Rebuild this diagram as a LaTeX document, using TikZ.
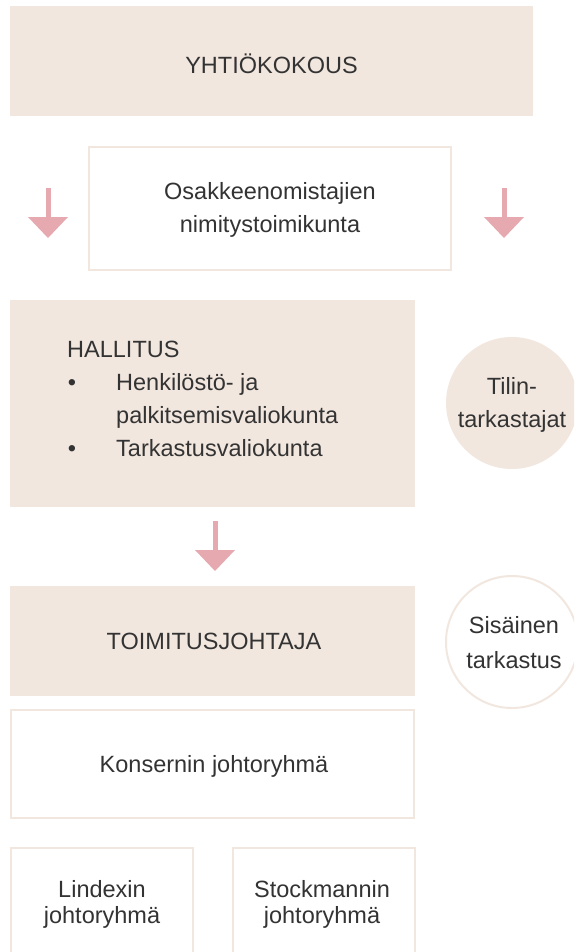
\documentclass[tikz,border=0pt]{standalone}
\usepackage{fontspec}
\setmainfont{Liberation Sans}
\usetikzlibrary{arrows.meta}
\definecolor{beige}{HTML}{F2E7DF}
\definecolor{pinkarr}{HTML}{E5A9AF}
\definecolor{txt}{HTML}{333333}
\begin{document}
\begin{tikzpicture}[x=1pt,y=-1pt,
  fbox/.style={fill=beige, draw=none, inner sep=0pt, outer sep=0pt, anchor=north west},
  obox/.style={draw=beige, line width=2pt, fill=white, inner sep=0pt, outer sep=0pt, anchor=north west},
  fcirc/.style={circle, fill=beige, draw=none, inner sep=0pt, minimum size=132pt},
  ocirc/.style={circle, draw=beige, line width=2pt, fill=white, inner sep=0pt, minimum size=132pt},
  lbl/.style={font=\fontsize{23.5}{32}\selectfont, text=txt, inner sep=0pt, anchor=base},
  lblw/.style={lbl, anchor=base west},
  arr/.style={draw=pinkarr, line width=5pt, -{Triangle[length=21pt,width=40pt,line width=0pt]}}]
\clip (0,0) rectangle (574,952);
\fill[white] (0,0) rectangle (574,952);
% boxes
\node[fbox, minimum width=523pt, minimum height=110pt] (yk) at (10,6) {};
\node[obox, minimum width=362pt, minimum height=123pt] (os) at (89,147) {};
\node[fbox, minimum width=405pt, minimum height=207pt] (ha) at (10,300) {};
\node[fbox, minimum width=405pt, minimum height=110pt] (tj) at (10,586) {};
\node[obox, minimum width=403pt, minimum height=108pt] (kj) at (11,710) {};
\node[obox, minimum width=182pt, minimum height=140pt] (lj) at (11,848) {};
\node[obox, minimum width=182pt, minimum height=140pt] (sj) at (233,848) {};
\node[fcirc] (tt) at (512,403) {};
\node[ocirc] (st) at (512,642) {};
% arrows
\coordinate (a1s) at (48,188); \coordinate (a1e) at (48,238);
\coordinate (a2s) at (504,188); \coordinate (a2e) at (504,238);
\coordinate (a3s) at (215,521); \coordinate (a3e) at (215,571);
\draw[arr] (a1s) -- (a1e);
\draw[arr] (a2s) -- (a2e);
\draw[arr] (a3s) -- (a3e);
% texts
\node[lbl] (t1) at (271.5,74) {YHTIÖKOKOUS};
\node[lbl] (t2) at (270,199) {Osakkeenomistajien};
\node[lbl] (t3) at (270,232) {nimitystoimikunta};
\node[lblw] (t4) at (67,357) {HALLITUS};
\node[lbl] (b1) at (72,390) {•};
\node[lblw] (t5) at (116,390) {Henkilöstö- ja};
\node[lblw] (t6) at (116,423) {palkitsemisvaliokunta};
\node[lbl] (b2) at (72,456) {•};
\node[lblw] (t7) at (116,456) {Tarkastusvaliokunta};
\node[lbl] (t8) at (512,394) {Tilin-};
\node[lbl] (t9) at (512,427) {tarkastajat};
\node[lbl] (t10) at (214,649) {TOIMITUSJOHTAJA};
\node[lbl] (t11) at (514,633) {Sisäinen};
\node[lbl] (t12) at (514,668) {tarkastus};
\node[lbl] (t13) at (214,772) {Konsernin johtoryhmä};
\node[lbl] (t14) at (102,897) {Lindexin};
\node[lbl] (t15) at (102,923) {johtoryhmä};
\node[lbl] (t16) at (322,897) {Stockmannin};
\node[lbl] (t17) at (322,923) {johtoryhmä};
\end{tikzpicture}
\end{document}
